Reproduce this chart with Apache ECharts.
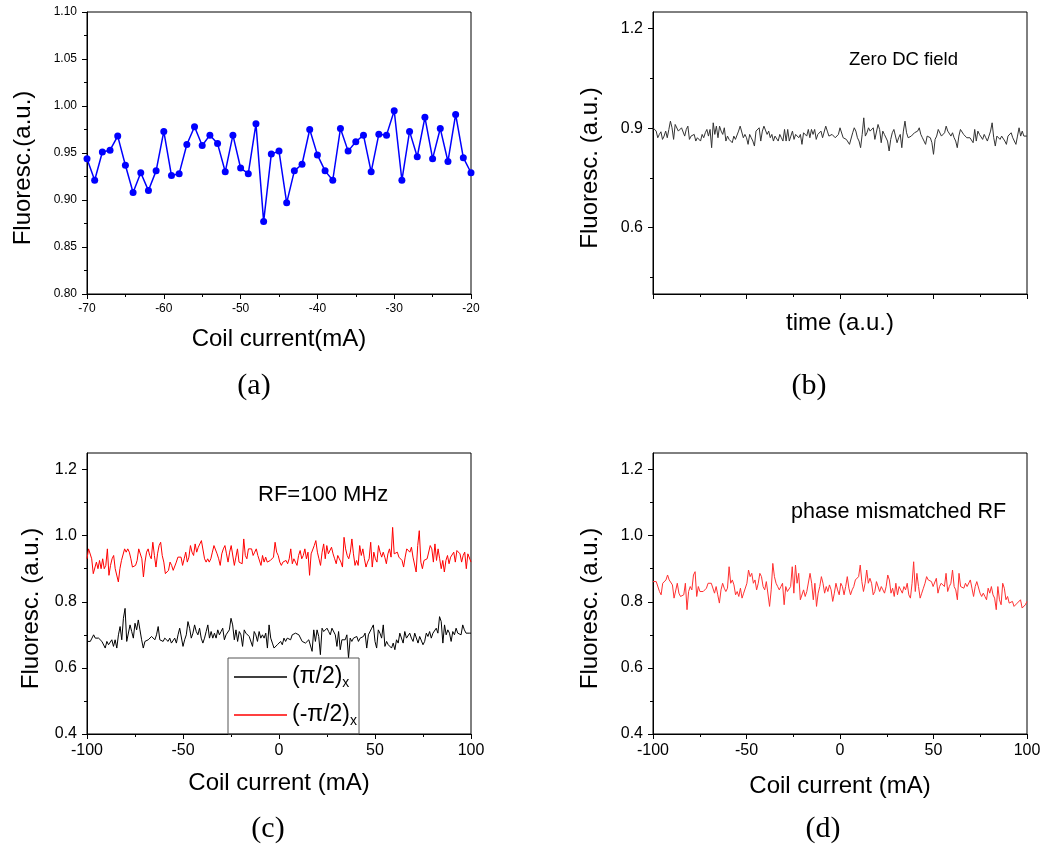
<!DOCTYPE html>
<html>
<head>
<meta charset="utf-8">
<title>Fluorescence vs coil current</title>
<script src="https://cdn.jsdelivr.net/npm/echarts@6/dist/echarts.min.js"></script>
<style>
  html, body { margin: 0; padding: 0; background: #fff; }
  #chart { width: 1057px; height: 848px; }
</style>
</head>
<body>
<div id="chart"></div>
<script>
// (a) fluorescence sampled every 1 mA from -70 to -20 mA
const currentA = [-70,-69,-68,-67,-66,-65,-64,-63,-62,-61,-60,-59,-58,-57,-56,-55,-54,-53,-52,-51,-50,-49,-48,-47,-46,-45,-44,-43,-42,-41,-40,-39,-38,-37,-36,-35,-34,-33,-32,-31,-30,-29,-28,-27,-26,-25,-24,-23,-22,-21,-20];
const fluorA = [0.944,0.921,0.951,0.953,0.968,0.937,0.908,0.929,0.910,0.931,0.973,0.926,0.928,0.959,0.978,0.958,0.969,0.960,0.930,0.969,0.934,0.928,0.981,0.877,0.949,0.952,0.897,0.931,0.938,0.975,0.948,0.931,0.921,0.976,0.952,0.962,0.969,0.930,0.970,0.969,0.995,0.921,0.973,0.946,0.988,0.944,0.976,0.941,0.991,0.945,0.929];

// (b) fluorescence trace at zero DC field (arbitrary time units)
const fluorB = [0.901,0.896,0.891,0.871,0.881,0.889,0.866,0.876,0.891,0.871,0.896,0.921,0.901,0.866,0.911,0.916,0.891,0.896,0.901,0.906,0.876,0.896,0.906,0.866,0.876,0.876,0.881,0.861,0.871,0.871,0.861,0.881,0.871,0.886,0.896,0.876,0.896,0.841,0.916,0.881,0.906,0.871,0.906,0.891,0.881,0.901,0.861,0.876,0.866,0.871,0.856,0.876,0.866,0.871,0.891,0.906,0.901,0.871,0.881,0.871,0.851,0.881,0.871,0.861,0.846,0.891,0.896,0.901,0.861,0.891,0.906,0.901,0.881,0.891,0.871,0.881,0.861,0.876,0.871,0.861,0.881,0.871,0.861,0.896,0.861,0.896,0.861,0.876,0.891,0.866,0.881,0.876,0.871,0.881,0.851,0.886,0.886,0.876,0.896,0.871,0.896,0.881,0.896,0.866,0.881,0.876,0.891,0.871,0.876,0.906,0.891,0.876,0.871,0.881,0.876,
  0.871,0.876,0.881,0.901,0.896,0.871,0.876,0.866,0.871,0.851,0.856,0.886,0.901,0.891,0.871,0.861,0.841,0.881,0.931,0.876,0.886,0.901,0.891,0.896,0.901,0.866,0.871,0.911,0.896,0.856,0.891,0.881,0.886,0.861,0.831,0.866,0.886,0.896,0.901,0.856,0.871,0.881,0.841,0.891,0.921,0.886,0.871,0.876,0.876,0.881,0.886,0.886,0.891,0.901,0.881,0.871,0.861,0.851,0.876,0.881,0.871,0.856,0.821,0.866,0.876,0.896,0.901,0.876,0.871,0.886,0.906,0.891,0.896,0.876,0.886,0.871,0.861,0.841,0.876,0.896,0.891,0.881,0.876,0.871,0.876,0.871,0.866,0.856,0.896,0.861,0.891,0.881,0.876,0.866,0.881,0.871,0.861,0.876,0.891,0.916,0.871,0.846,0.876,0.871,0.866,0.876,0.881,0.861,0.851,0.876,0.871,0.886,0.871,0.876,0.851,0.876,0.901,0.876,0.891,0.876,0.871,0.876];

// (c) RF = 100 MHz, coil current swept -100 .. 100 mA
const fluorCminus = [0.93,0.96,0.955,0.93,0.885,0.89,0.92,0.90,0.925,0.90,0.93,0.90,0.91,0.96,0.88,0.91,0.93,0.94,0.90,0.895,0.86,0.90,0.925,0.93,0.96,0.95,0.96,0.95,0.93,0.905,0.905,0.91,0.925,0.96,0.96,0.93,0.875,0.92,0.95,0.96,0.94,0.93,0.98,0.94,0.905,0.945,0.97,0.98,0.94,0.92,0.885,0.89,0.895,0.92,0.91,0.895,0.90,0.92,0.935,0.93,0.935,0.91,0.93,0.95,0.92,0.935,0.97,0.95,0.94,0.975,0.95,0.965,0.96,0.985,0.98,0.93,0.92,0.93,0.92,0.93,0.95,0.97,0.975,0.945,0.93,0.91,0.945,0.96,0.97,0.945,0.92,0.95,0.97,0.975,0.91,0.935,0.96,0.92,0.925,0.915,0.99,0.94,0.93,0.96,0.955,0.96,0.94,0.95,0.96,0.94,0.945,0.91,0.94,0.92,0.935,0.92,0.92,0.925,0.93,0.935,0.98,0.95,0.94,0.92,0.91,
  0.92,0.915,0.925,0.915,0.93,0.96,0.915,0.93,0.92,0.91,0.94,0.955,0.93,0.94,0.96,0.93,0.95,0.88,0.945,0.94,0.97,0.985,0.95,0.93,0.91,0.95,0.975,0.93,0.97,0.945,0.95,0.965,0.945,0.93,0.915,0.94,0.93,0.92,0.905,0.995,0.96,0.94,0.93,0.95,0.99,0.945,0.91,0.925,0.91,0.97,0.94,0.96,0.93,0.905,0.92,0.93,0.98,0.905,0.95,0.93,0.92,0.97,0.95,0.935,0.95,0.935,0.915,0.945,0.96,0.935,1.025,0.945,0.94,0.95,0.935,0.93,0.925,0.905,0.935,0.96,0.965,0.95,0.965,0.935,0.94,0.89,0.97,1.015,0.92,0.90,0.925,0.93,0.93,0.935,0.97,0.96,0.92,0.975,0.925,0.96,0.93,0.90,0.925,0.89,0.925,0.94,0.915,0.935,0.93,0.95,0.92,0.955,0.96,0.945,0.92,0.94,0.95,0.90,0.945,0.94,0.92];
const fluorCplus = [0.68,0.675,0.68,0.69,0.70,0.69,0.685,0.69,0.685,0.68,0.675,0.66,0.68,0.67,0.665,0.685,0.665,0.685,0.66,0.70,0.725,0.685,0.75,0.78,0.68,0.68,0.73,0.71,0.69,0.735,0.715,0.745,0.715,0.685,0.66,0.68,0.685,0.685,0.69,0.695,0.695,0.685,0.70,0.725,0.685,0.685,0.68,0.69,0.685,0.68,0.69,0.675,0.68,0.69,0.675,0.70,0.72,0.715,0.665,0.685,0.70,0.74,0.72,0.69,0.705,0.73,0.71,0.70,0.72,0.69,0.675,0.69,0.71,0.73,0.69,0.71,0.69,0.705,0.69,0.715,0.70,0.71,0.72,0.685,0.70,0.705,0.715,0.75,0.73,0.685,0.715,0.68,0.71,0.70,0.665,0.715,0.705,0.71,0.695,0.69,0.665,0.71,0.70,0.68,0.71,0.69,0.70,0.69,0.705,0.66,0.73,0.69,0.675,0.66,0.665,0.67,
  0.665,0.68,0.67,0.69,0.68,0.69,0.695,0.685,0.70,0.695,0.705,0.705,0.70,0.695,0.68,0.68,0.675,0.68,0.685,0.69,0.65,0.715,0.68,0.715,0.695,0.64,0.72,0.71,0.715,0.72,0.71,0.70,0.72,0.715,0.70,0.665,0.71,0.655,0.685,0.69,0.685,0.70,0.63,0.69,0.68,0.69,0.685,0.695,0.68,0.69,0.685,0.695,0.705,0.66,0.70,0.705,0.72,0.73,0.68,0.66,0.715,0.705,0.69,0.73,0.665,0.68,0.67,0.675,0.66,0.675,0.655,0.685,0.675,0.705,0.705,0.675,0.71,0.69,0.685,0.705,0.69,0.68,0.705,0.71,0.675,0.695,0.70,0.67,0.68,0.705,0.695,0.71,0.69,0.705,0.70,0.72,0.705,0.755,0.74,0.675,0.73,0.70,0.715,0.705,0.68,0.71,0.70,0.72,0.705,0.71,0.70,0.73,0.715,0.705,0.71,0.705,0.705];

// (d) phase mismatched RF, coil current swept -100 .. 100 mA
const fluorD = [0.861,0.856,0.861,0.856,0.831,0.821,0.856,0.856,0.866,0.881,0.866,0.861,0.851,0.811,0.816,0.856,0.826,0.816,0.816,0.821,0.856,0.776,0.831,0.846,0.836,0.881,0.891,0.816,0.846,0.831,0.836,0.831,0.836,0.841,0.856,0.856,0.856,0.856,0.826,0.846,0.821,0.796,0.836,0.856,0.841,0.831,0.841,0.906,0.856,0.866,0.851,0.821,0.831,0.816,0.841,0.811,0.826,0.831,0.856,0.896,0.876,0.886,0.856,0.866,0.836,0.856,0.886,0.876,0.846,0.836,0.861,0.856,0.786,0.836,0.916,0.876,0.856,0.846,0.836,0.846,0.856,0.791,0.846,0.831,0.831,0.846,0.906,0.826,0.911,0.856,0.886,0.806,0.801,0.836,0.816,0.831,0.836,0.886,0.856,0.806,0.856,0.786,0.826,0.846,0.876,0.856,0.826,0.846,0.831,0.851,0.836,0.801,0.826,0.856,0.836,0.821,
  0.856,0.846,0.821,0.846,0.876,0.841,0.821,0.836,0.846,0.866,0.861,0.876,0.911,0.861,0.831,0.856,0.896,0.856,0.871,0.856,0.821,0.831,0.861,0.866,0.831,0.846,0.836,0.826,0.846,0.881,0.866,0.826,0.841,0.816,0.856,0.821,0.846,0.836,0.826,0.846,0.836,0.856,0.821,0.811,0.856,0.921,0.831,0.886,0.846,0.811,0.826,0.841,0.856,0.876,0.866,0.871,0.861,0.846,0.841,0.871,0.826,0.846,0.856,0.861,0.846,0.886,0.831,0.846,0.856,0.896,0.846,0.836,0.806,0.886,0.846,0.841,0.841,0.856,0.846,0.851,0.866,0.841,0.816,0.846,0.861,0.856,0.826,0.816,0.826,0.816,0.806,0.841,0.826,0.846,0.821,0.811,0.776,0.846,0.806,0.791,0.856,0.841,0.806,0.816,0.796,0.791,0.801,0.786,0.781,0.796,0.801,0.806,0.781,0.786,0.791,0.801];

// tick values
const ticksAY = [0.80,0.85,0.90,0.95,1.00,1.05,1.10];
const minorAY = [0.825,0.875,0.925,0.975,1.025,1.075];
const ticksBY = [0.6,0.9,1.2];
const minorBY = [0.45,0.75,1.05];
const ticksCY = [0.4,0.6,0.8,1.0,1.2];
const minorCY = [0.5,0.7,0.9,1.1];

// pair each sample with its x position; samples are evenly spaced over [x0, x1]
function sweep(values, x0, x1) {
  const n = values.length;
  return values.map((v, i) => [x0 + (x1 - x0) * i / (n - 1), v]);
}

const SANS = 'Liberation Sans';
const SERIF = 'Liberation Serif';
const black = '#000';
const grids = [
  { left: 87, top: 12, width: 384, height: 282 },
  { left: 653, top: 12, width: 374, height: 282 },
  { left: 87, top: 453, width: 384, height: 281 },
  { left: 653, top: 453, width: 374, height: 281 }
].map(g => Object.assign({ show: true, borderColor: black, borderWidth: 1, backgroundColor: 'transparent', outerBoundsMode: 'none', containLabel: false }, g));

function xAxisCfg(gridIndex, opts) {
  return Object.assign({
    gridIndex, type: 'value', position: 'bottom',
    axisLine: { show: true, onZero: false, lineStyle: { color: black, width: 1 } },
    axisTick: { show: true, length: 5, lineStyle: { color: black } },
    minorTick: { show: true, splitNumber: 2, length: 3, lineStyle: { color: black } },
    splitLine: { show: false },
    nameLocation: 'middle',
    nameTextStyle: { fontFamily: SANS, fontSize: 24, color: black }
  }, opts);
}
// the vertical title sits a little below the middle of the axis
function yAxisCfg(gridIndex, ticks, digits, fontSize, opts) {
  return Object.assign({
    gridIndex, type: 'value', position: 'left', min: 0.4, max: 1.25,
    axisLine: { show: true, onZero: false, lineStyle: { color: black, width: 1 } },
    axisTick: { show: true, length: 5, customValues: ticks, lineStyle: { color: black } },
    axisLabel: { customValues: ticks, fontFamily: SANS, fontSize, color: black, margin: 10,
                 formatter: v => Number(v).toFixed(digits) },
    splitLine: { show: false },
    nameLocation: 'middle',
    nameTextStyle: { fontFamily: SANS, fontSize: 24, color: black, padding: [0, 30, 0, 0] }
  }, opts);
}
// short ticks between the labelled ones
function minorYAxis(gridIndex, ticks, min, max) {
  return {
    gridIndex, type: 'value', position: 'left', offset: 0, min, max,
    axisLine: { show: false, onZero: false },
    axisTick: { show: true, length: 3, customValues: ticks, lineStyle: { color: black } },
    axisLabel: { show: false },
    splitLine: { show: false }
  };
}

const xAxes = [
  xAxisCfg(0, { min: -70, max: -20, interval: 10, name: 'Coil current(mA)', nameGap: 33,
    axisLabel: { fontFamily: SANS, fontSize: 12, color: black, margin: 9 } }),
  xAxisCfg(1, { min: 0, max: 4, interval: 1, name: 'time (a.u.)', nameGap: 17,
    axisLabel: { show: false } }),
  xAxisCfg(2, { min: -100, max: 100, interval: 50, name: 'Coil current (mA)', nameGap: 37,
    axisLabel: { fontFamily: SANS, fontSize: 16, color: black, margin: 9 } }),
  xAxisCfg(3, { min: -100, max: 100, interval: 50, name: 'Coil current (mA)', nameGap: 40,
    axisLabel: { fontFamily: SANS, fontSize: 16, color: black, margin: 9 } })
];
const yAxes = [
  yAxisCfg(0, ticksAY, 2, 12, { min: 0.8, max: 1.1, name: 'Fluoresc.(a.u.)', nameGap: 52 }),
  yAxisCfg(1, ticksBY, 1, 16, { name: 'Fluoresc. (a.u.)', nameGap: 51 }),
  yAxisCfg(2, ticksCY, 1, 16, { name: 'Fluoresc. (a.u.)', nameGap: 44 }),
  yAxisCfg(3, ticksCY, 1, 16, { name: 'Fluoresc. (a.u.)', nameGap: 51 }),
  minorYAxis(0, minorAY, 0.8, 1.1),
  minorYAxis(1, minorBY, 0.4, 1.25),
  minorYAxis(2, minorCY, 0.4, 1.25),
  minorYAxis(3, minorCY, 0.4, 1.25)
];

const NAME_PLUS = '(π/2){s|x}';
const NAME_MINUS = '(-π/2){s|x}';

const series = [
  { name: 'a', type: 'line', xAxisIndex: 0, yAxisIndex: 0,
    data: currentA.map((x, i) => [x, fluorA[i]]),
    symbol: 'circle', symbolSize: 7, showAllSymbol: true,
    itemStyle: { color: '#0000ff' }, lineStyle: { color: '#0000ff', width: 1.5 } },
  { name: 'b', type: 'line', xAxisIndex: 1, yAxisIndex: 1,
    data: sweep(fluorB, 0, 4), symbol: 'none',
    lineStyle: { color: '#333333', width: 1 } },
  { name: NAME_PLUS, type: 'line', xAxisIndex: 2, yAxisIndex: 2,
    data: sweep(fluorCplus, -100, 100), symbol: 'none',
    itemStyle: { color: '#000000' }, lineStyle: { color: '#000000', width: 1 } },
  { name: NAME_MINUS, type: 'line', xAxisIndex: 2, yAxisIndex: 2,
    data: sweep(fluorCminus, -100, 100), symbol: 'none',
    itemStyle: { color: '#ff0000' }, lineStyle: { color: '#ff0000', width: 1 } },
  { name: 'd', type: 'line', xAxisIndex: 3, yAxisIndex: 3,
    data: sweep(fluorD, -100, 100), symbol: 'none',
    lineStyle: { color: '#ff3030', width: 1 } }
];

function label(text, x, y, size, family, align) {
  return { type: 'text', x, y, silent: true,
    style: { text, fontFamily: family, fontSize: size, fill: black,
             align: align || 'left', verticalAlign: 'middle' } };
}

const chart = echarts.init(document.getElementById('chart'), null, { renderer: 'canvas' });
chart.setOption({
  animation: false,
  backgroundColor: '#fff',
  grid: grids,
  xAxis: xAxes,
  yAxis: yAxes,
  legend: {
    data: [NAME_PLUS, NAME_MINUS],
    orient: 'vertical', left: 228, top: 658,
    padding: [5, 2, 5, 6], itemGap: 10, itemWidth: 53, itemHeight: 1.4, itemTextGap: 7,
    icon: 'rect',
    borderColor: '#555', borderWidth: 1, borderRadius: 0,
    textStyle: { fontFamily: SANS, fontSize: 23, color: black, lineHeight: 28,
      rich: { s: { fontFamily: SANS, fontSize: 14, color: black, padding: [12, 0, 0, 0] } } }
  },
  graphic: [
    label('Zero DC field', 849, 60, 18.5, SANS),
    label('RF=100 MHz', 258, 495, 22, SANS),
    label('phase mismatched RF', 791, 512, 21.5, SANS),
    label('(a)', 254, 386, 30, SERIF, 'center'),
    label('(b)', 809, 386, 30, SERIF, 'center'),
    label('(c)', 268, 829, 30, SERIF, 'center'),
    label('(d)', 823, 829, 30, SERIF, 'center')
  ],
  series
});
</script>
</body>
</html>
